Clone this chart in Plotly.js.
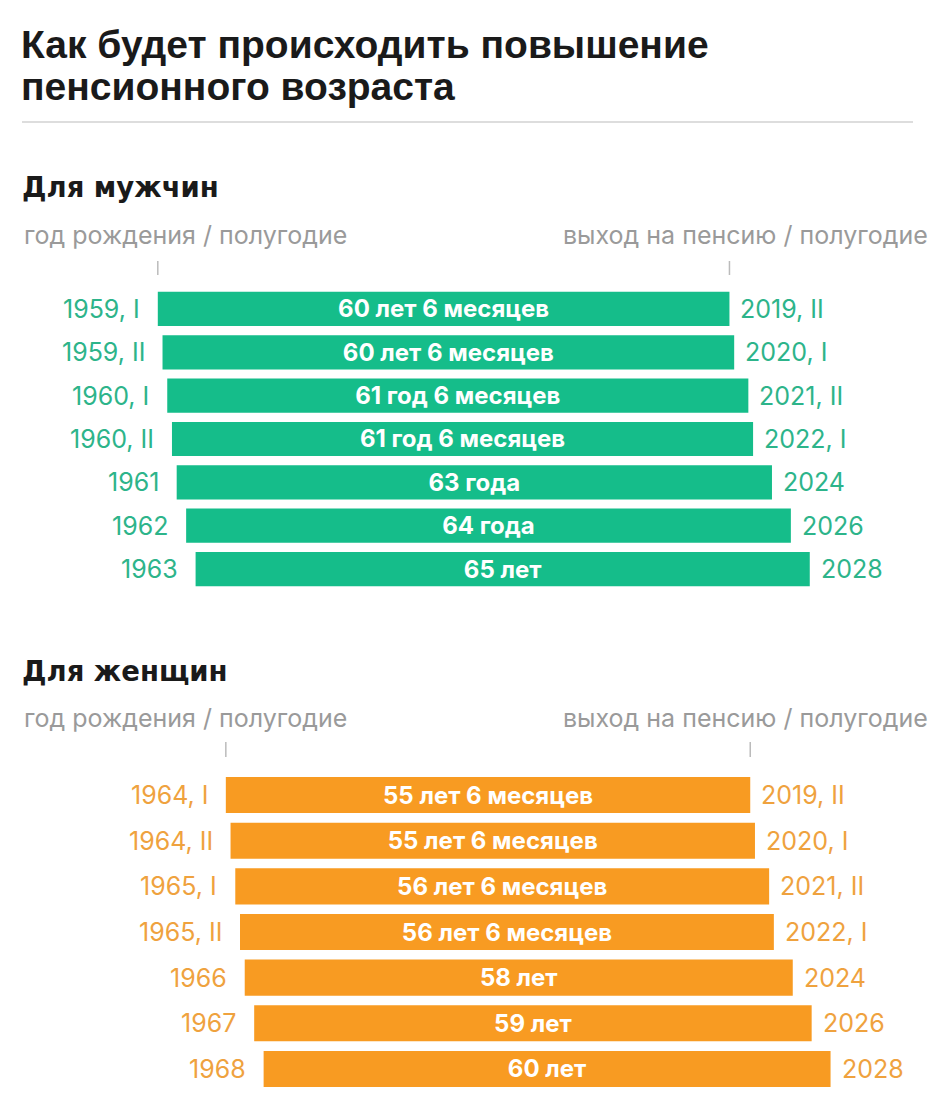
<!DOCTYPE html>
<html>
<head>
<meta charset="utf-8">
<script src="https://cdn.plot.ly/plotly-3.0.1.min.js"></script>
<style>
html,body{margin:0;padding:0;background:#fff;}
#chart{width:943px;height:1116px;}
</style>
</head>
<body>
<div id="chart"></div>
<script>
// ---- Data ----
const menBirthLabels = ["1959, I", "1959, II", "1960, I", "1960, II", "1961", "1962", "1963"];
const menBirth = [1959.0, 1959.5, 1960.0, 1960.5, 1961, 1962, 1963];
const menAge = [60.5, 60.5, 61.5, 61.5, 63, 64, 65];
const menAgeLabels = ["60 лет 6 месяцев", "60 лет 6 месяцев", "61 год 6 месяцев", "61 год 6 месяцев", "63 года", "64 года", "65 лет"];
const menRetireLabels = ["2019, II", "2020, I", "2021, II", "2022, I", "2024", "2026", "2028"];

const womenBirthLabels = ["1964, I", "1964, II", "1965, I", "1965, II", "1966", "1967", "1968"];
const womenBirth = [1964.0, 1964.5, 1965.0, 1965.5, 1966, 1967, 1968];
const womenAge = [55.5, 55.5, 56.5, 56.5, 58, 59, 60];
const womenAgeLabels = ["55 лет 6 месяцев", "55 лет 6 месяцев", "56 лет 6 месяцев", "56 лет 6 месяцев", "58 лет", "59 лет", "60 лет"];
const womenRetireLabels = ["2019, II", "2020, I", "2021, II", "2022, I", "2024", "2026", "2028"];

// ---- Styles ----
const GREEN = "#15BD8A", GREEN_TXT = "#2DB48A";
const ORANGE = "#F89B22", ORANGE_TXT = "#EFA23E";
const FONT = "Inter, Roboto, 'Noto Sans', sans-serif";
const H = 1116, W = 943;
const py = px => 1 - px / H;

function barTrace(birth, age, labels, ageLabels, color, xa, ya) {
  return {
    type: "bar", orientation: "h",
    base: birth, x: age, y: labels.map((_, i) => i),
    xaxis: xa, yaxis: ya,
    marker: {color: color, line: {width: 0}},
    width: 0.79,
    text: ageLabels,
    textposition: "inside", insidetextanchor: "middle",
    textangle: 0,
    constraintext: "none",
    textfont: {color: "#fff", size: 24, family: FONT, weight: 700},
    hoverinfo: "skip", showlegend: false
  };
}

const data = [
  barTrace(menBirth, menAge, menBirthLabels, menAgeLabels, GREEN, "x", "y"),
  barTrace(womenBirth, womenAge, womenBirthLabels, womenAgeLabels, ORANGE, "x2", "y2")
];

const annotations = [];
function sideLabels(birth, age, labels, retLabels, color, xr, yr) {
  birth.forEach((b, i) => {
    annotations.push({x: b, y: i, xref: xr, yref: yr, text: labels[i],
      xanchor: "right", yanchor: "middle", xshift: -16, showarrow: false,
      font: {family: FONT, size: 25, color: color}});
    annotations.push({x: b + age[i], y: i, xref: xr, yref: yr, text: retLabels[i],
      xanchor: "left", yanchor: "middle", xshift: 9, showarrow: false,
      font: {family: FONT, size: 25, color: color}});
  });
}
sideLabels(menBirth, menAge, menBirthLabels, menRetireLabels, GREEN_TXT, "x", "y");
sideLabels(womenBirth, womenAge, womenBirthLabels, womenRetireLabels, ORANGE_TXT, "x2", "y2");

function txt(text, xpx, ypx, size, color, weight, anchor, family) {
  annotations.push({text: text, x: xpx / W, y: py(ypx), xref: "paper", yref: "paper",
    xanchor: anchor || "left", yanchor: "middle", showarrow: false,
    font: {family: family || FONT, size: size, color: color, weight: weight || 400}});
}
const TITLE_FONT = "'Liberation Sans', Arial, sans-serif";
const SUB_FONT = "'DejaVu Sans', sans-serif";
txt("Как будет происходить повышение", 19, 45, 39, "#1a1a1a", 700, "left", TITLE_FONT);
txt("пенсионного возраста", 19, 86, 39, "#1a1a1a", 700, "left", TITLE_FONT);
txt("Для мужчин", 20, 187, 27.5, "#1a1a1a", 700, "left", SUB_FONT);
txt("год рождения / полугодие", 22, 235, 25, "#9a9a9a", 400);
txt("выход на пенсию / полугодие", 930, 235, 25, "#9a9a9a", 400, "right");
txt("Для женщин", 20, 671, 27.5, "#1a1a1a", 700, "left", SUB_FONT);
txt("год рождения / полугодие", 22, 718, 25, "#9a9a9a", 400);
txt("выход на пенсию / полугодие", 930, 718, 25, "#9a9a9a", 400, "right");

const shapes = [
  {type: "line", xref: "paper", yref: "paper", x0: 22 / W, x1: 913 / W, y0: py(122), y1: py(122),
   line: {color: "#dddddd", width: 2}},
  {type: "line", xref: "x", yref: "paper", x0: menBirth[0], x1: menBirth[0], y0: py(261), y1: py(275),
   line: {color: "#bbbbbb", width: 1.5}},
  {type: "line", xref: "x", yref: "paper", x0: menBirth[0] + menAge[0], x1: menBirth[0] + menAge[0], y0: py(261), y1: py(275),
   line: {color: "#bbbbbb", width: 1.5}},
  {type: "line", xref: "x2", yref: "paper", x0: womenBirth[0], x1: womenBirth[0], y0: py(742), y1: py(757),
   line: {color: "#bbbbbb", width: 1.5}},
  {type: "line", xref: "x2", yref: "paper", x0: womenBirth[0] + womenAge[0], x1: womenBirth[0] + womenAge[0], y0: py(742), y1: py(757),
   line: {color: "#bbbbbb", width: 1.5}}
];

const hiddenX = {visible: false, showgrid: false, zeroline: false, fixedrange: true};
const hiddenY = {visible: false, showgrid: false, zeroline: false, fixedrange: true};

const layout = {
  width: W, height: H,
  margin: {l: 0, r: 0, t: 0, b: 0},
  paper_bgcolor: "#fff", plot_bgcolor: "#fff",
  showlegend: false,
  barmode: "overlay",
  xaxis: Object.assign({}, hiddenX, {range: [1942.3, 2042.1], domain: [0, 1], anchor: "y"}),
  yaxis: Object.assign({}, hiddenY, {range: [6.5, -0.5], domain: [py(590.7), py(287.3)], anchor: "x"}),
  xaxis2: Object.assign({}, hiddenX, {range: [1940.1, 2039.9], domain: [0, 1], anchor: "y2"}),
  yaxis2: Object.assign({}, hiddenY, {range: [6.5, -0.5], domain: [py(1091.8), py(772.2)], anchor: "x2"}),
  annotations: annotations,
  shapes: shapes,
  font: {family: FONT}
};

Plotly.newPlot("chart", data, layout, {displayModeBar: false, staticPlot: true});
</script>
</body>
</html>
